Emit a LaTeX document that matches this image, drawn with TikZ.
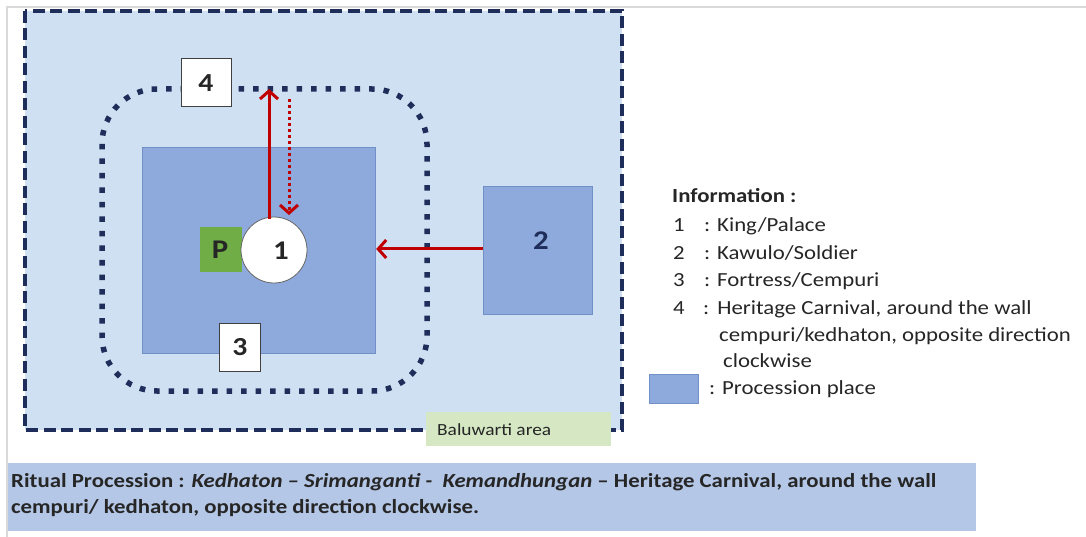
\documentclass[tikz,border=0pt]{standalone}
\usepackage{graphicx}
\usepackage{fontspec}
\setmainfont{Carlito}
\usetikzlibrary{arrows.meta}
\definecolor{areablue}{HTML}{CFE0F2}
\definecolor{placeblue}{HTML}{8EA9DB}
\definecolor{placeedge}{HTML}{7190C8}
\definecolor{navy}{HTML}{1F2D5A}
\definecolor{arrowred}{HTML}{C00000}
\definecolor{pgreen}{HTML}{70AD47}
\definecolor{areagreen}{HTML}{D5E8C3}
\definecolor{bandblue}{HTML}{B4C7E7}
\definecolor{framegrey}{HTML}{DADADA}
\definecolor{textdark}{HTML}{262626}
% text in this sheet is set slightly wide
\newcommand{\widetext}[1]{\scalebox{1.14}[1]{#1}}
\tikzset{
  place/.style={draw=placeedge, line width=1.2pt, fill=placeblue},
  numbox/.style={draw=black!75, line width=1pt, fill=white, inner sep=0pt,
    font=\fontsize{26}{26}\selectfont\bfseries, text=textdark},
  bignum/.style={font=\fontsize{27}{27}\selectfont\bfseries},
  redarrow/.style={draw=arrowred, line width=3pt,
    -{Straight Barb[length=8pt,width=18pt,line width=3pt]}},
  legend/.style={anchor=base west, inner sep=0pt, text=textdark,
    font=\fontsize{20}{20}\selectfont},
  caption/.style={anchor=base west, inner sep=0pt, text=textdark,
    font=\fontsize{20}{20}\selectfont\bfseries},
}
\begin{document}
\begin{tikzpicture}[x=1pt,y=-1pt]
\useasboundingbox (0,0) rectangle (1086,537);
\fill[white] (0,0) rectangle (1086,537);
% page frame
\draw[framegrey, line width=1.5pt] (7,537) -- (7,7) -- (1086,7);

% Baluwarti area
\path[fill=areablue] (25,11) rectangle (622,430);
\draw[navy, line width=3.5pt, dash pattern=on 12pt off 5.5pt]
  (25,11) rectangle (622,430);
\node[fill=areagreen, minimum width=185pt, minimum height=34pt, inner sep=0pt,
  anchor=north west] (bal) at (426,412) {};
\node[anchor=base west, inner sep=0pt, font=\fontsize{17}{17}\selectfont, text=textdark]
  (baltext) at (437,435) {\widetext{Baluwarti area}};

% fortress wall (dotted)
\draw[navy, line width=5.5pt, dash pattern=on 5.5pt off 9pt, rounded corners=55pt]
  (102,89) rectangle (427,391);

% procession places
\node[place, minimum width=233pt, minimum height=206pt, anchor=north west, inner sep=0pt]
  (inner) at (142,147) {};
\node[place, minimum width=109pt, minimum height=128pt, anchor=north west, inner sep=0pt]
  (kawulo) at (483,186) {};
\node[bignum, text=navy] (two) at (541,241) {\widetext{2}};

% palace
\node[fill=pgreen, minimum width=42pt, minimum height=45pt, inner sep=0pt]
  (p) at (221,249.5) {};
\node[bignum, text=textdark] (ptext) at (220,249.5) {\widetext{P}};
\node[circle, draw=black!60, line width=0.8pt, fill=white, minimum size=66pt, inner sep=0pt]
  (king) at (274,250) {};
\node[bignum, text=textdark] (one) at (281,251) {\widetext{1}};

% labels 3 and 4
\node[numbox, minimum width=50pt, minimum height=48pt] (four) at (206,83) {\widetext{4}};
\node[numbox, minimum width=41pt, minimum height=48pt] (three) at (240,347) {\widetext{3}};

% arrows
\coordinate (walltop) at (269,89);
\coordinate (wallback) at (289,99);
\coordinate (kingtop) at (289,215);
\draw[redarrow] (king.north -| walltop) ++(0,2) -- (walltop);
\draw[redarrow, dash pattern=on 3pt off 3pt] (wallback) -- (kingtop);
\draw[redarrow] (kawulo.west |- 0,249) -- (inner.east |- 0,249);

% legend
\node[legend, font=\fontsize{20}{20}\selectfont\bfseries] (info) at (672,203) {\widetext{Information :}};
\node[legend] (l1n) at (673,232) {\widetext{1}};
\node[legend] (l1) at (704,232) {\widetext{: King/Palace}};
\node[legend] (l2n) at (673,259) {\widetext{2}};
\node[legend] (l2) at (704,259) {\widetext{: Kawulo/Soldier}};
\node[legend] (l3n) at (673,287) {\widetext{3}};
\node[legend] (l3) at (704,287) {\widetext{: Fortress/Cempuri}};
\node[legend] (l4n) at (673,314) {\widetext{4}};
\node[legend] (l4) at (703,314) {\widetext{:\hspace{7pt}Heritage Carnival, around the wall}};
\node[legend] (l4b) at (719,341) {\widetext{cempuri/kedhaton, opposite direction}};
\node[legend] (l4c) at (723,367) {\widetext{clockwise}};
\node[place, minimum width=49pt, minimum height=29pt, anchor=north west, inner sep=0pt]
  (swatch) at (649,374) {};
\node[legend] (l5) at (709,394) {\widetext{: Procession place}};

% caption band
\node[fill=bandblue, minimum width=968pt, minimum height=68pt, inner sep=0pt,
  anchor=north west] (band) at (8,463) {};
\node[caption] (cap1) at (11,487)
  {\widetext{Ritual Procession : \textit{Kedhaton -- Srimanganti -\ \ Kemandhungan} -- Heritage Carnival, around the wall}};
\node[caption] (cap2) at (11,513)
  {\widetext{cempuri/ kedhaton, opposite direction clockwise.}};
\end{tikzpicture}
\end{document}
